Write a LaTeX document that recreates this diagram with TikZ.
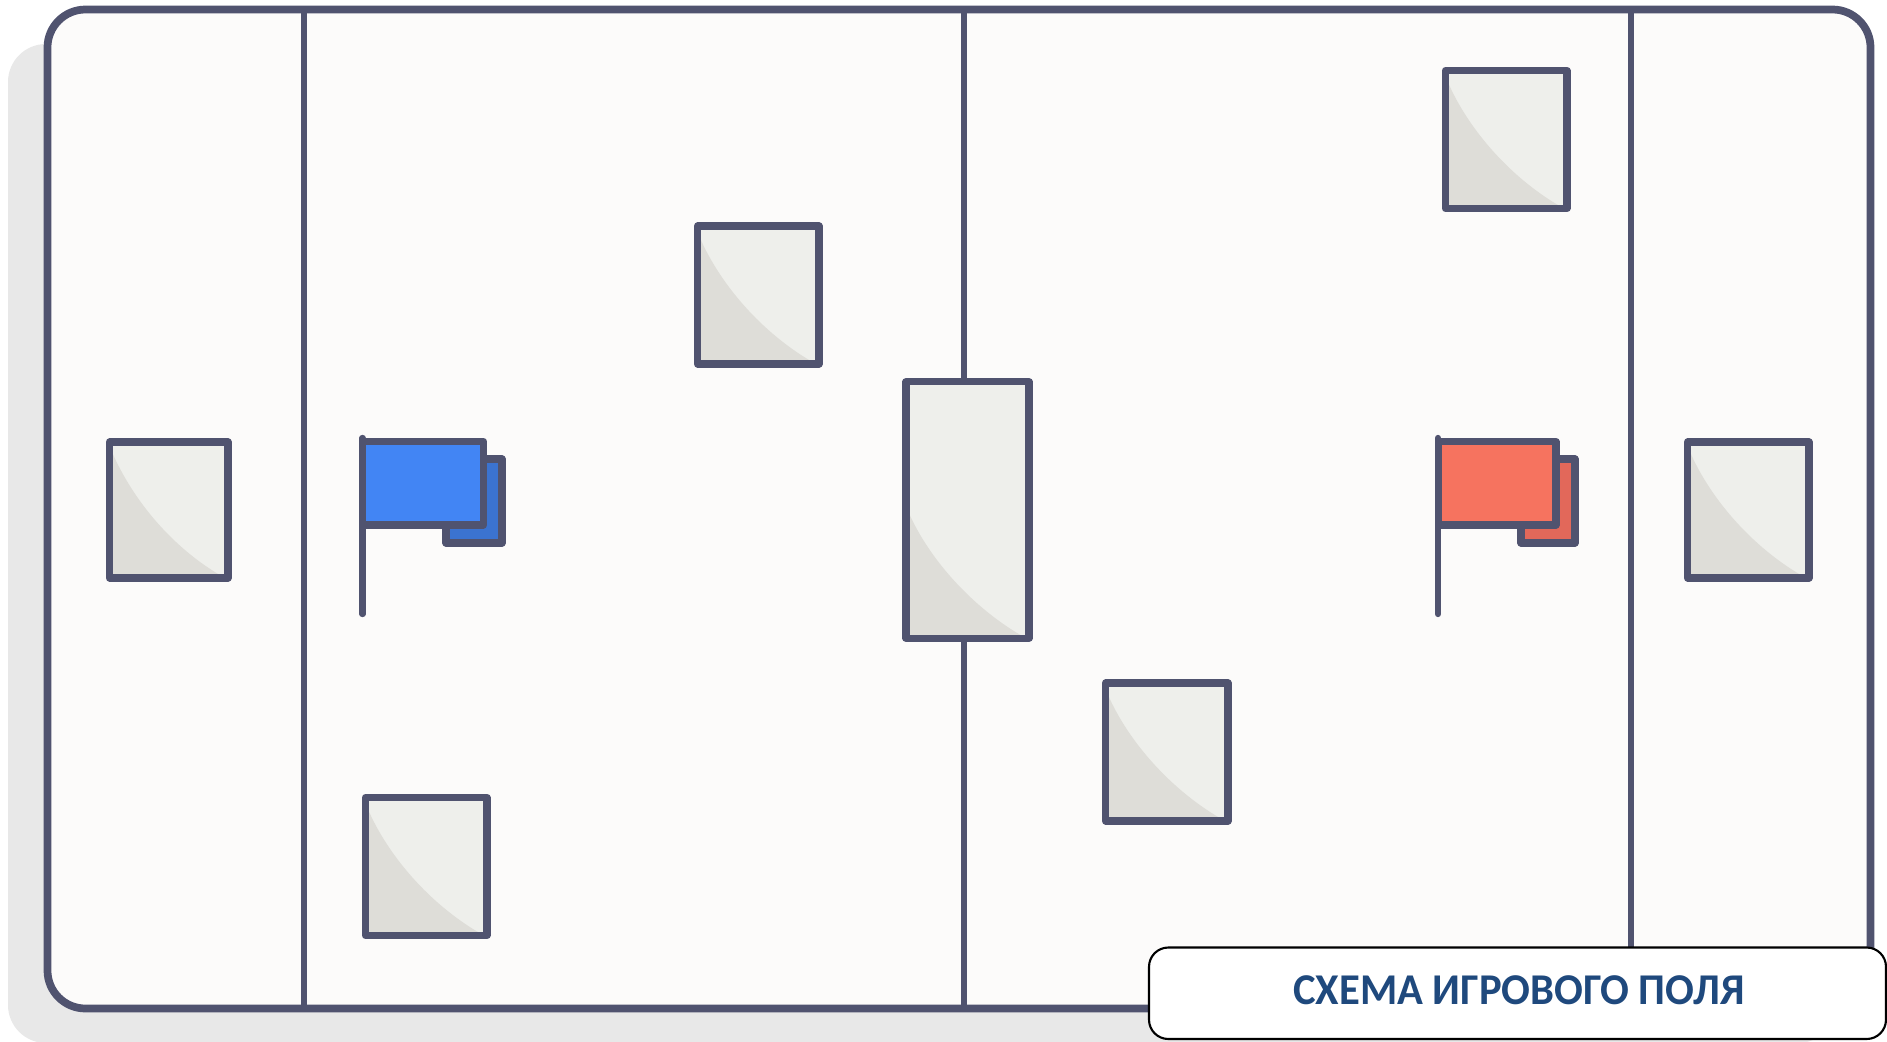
\documentclass[tikz,border=0pt]{standalone}
\usepackage{fontspec}
\setmainfont{Carlito}

\definecolor{lineblue}{HTML}{50536F}
\definecolor{fieldfill}{HTML}{FCFBFA}
\definecolor{shadowgrey}{HTML}{E8E8E8}
\definecolor{boxlight}{HTML}{EEEFEB}
\definecolor{boxdark}{HTML}{DEDDD8}
\definecolor{flagblue}{HTML}{4285F4}
\definecolor{flagblueback}{HTML}{3B73D0}
\definecolor{flagred}{HTML}{F6735F}
\definecolor{flagredback}{HTML}{E2685A}
\definecolor{titleblue}{HTML}{1F497D}

\begin{document}
\begin{tikzpicture}[
        x=0.01cm,y=-0.01cm,
        line join=round,
        border/.style={draw=lineblue,line width=2pt},
        fieldline/.style={draw=lineblue,line width=1.8pt},
        titlebox/.style={draw=black,line width=0.6pt,fill=white,rounded corners=5.5pt},
      ]
      \useasboundingbox (0,0) rectangle (1887,1042);

      \fill[shadowgrey,rounded corners=10.8pt] (8,44) rectangle (1836,1043);
      \fill[fieldfill,rounded corners=10.8pt] (47.5,9.5) rectangle (1870.5,1008.5);

      \draw[fieldline] (304,9.5) -- (304,1008.5);
      \draw[fieldline] (964,9.5) -- (964,1008.5);
      \draw[fieldline] (1631,9.5) -- (1631,1008.5);

      \draw[border,line width=2.2pt,rounded corners=10.8pt] (47.5,9.5) rectangle (1870.5,1008.5);

      % safe zones, the last one is the centre
      \foreach \xa/\ya/\xb/\yb in {109.5/442/228/578, 697.5/226/819/364, 1445.5/70.5/1567/208.5,
          365.5/797.5/487/935.5, 1105.5/683/1228/821, 1687.5/442/1809/578, 906/381.8/1029/638.2} {
        \fill[boxlight] (\xa,\ya) rectangle (\xb,\yb);
        \fill[boxdark] (\xa,\yb) -- ++(0,-132) .. controls +(20,50) and +(-54,-30) .. (\xb-3,\yb) -- cycle;
        \draw[border] (\xa,\ya) rectangle (\xb,\yb);
      }

      \draw[border,fill=flagblueback] (446,459) rectangle (502,543);
      \draw[border,fill=flagblue] (362.8,441.5) rectangle (483.5,525);
      \draw[fieldline,line cap=round] (362.5,438) -- (362.5,614);

      \draw[border,fill=flagredback] (1521,459) rectangle (1575,543);
      \draw[border,fill=flagred] (1438.3,441.5) rectangle (1556,525);
      \draw[fieldline,line cap=round] (1438,438) -- (1438,614);

      \draw[titlebox] (1149,947.5) rectangle (1886,1039);
      \node[text=titleblue,xscale=0.97,transform shape,font=\fontsize{12.5}{15}\selectfont\bfseries] (title) at (1519,990) {СХЕМА ИГРОВОГО ПОЛЯ};

    \end{tikzpicture}
\end{document}
